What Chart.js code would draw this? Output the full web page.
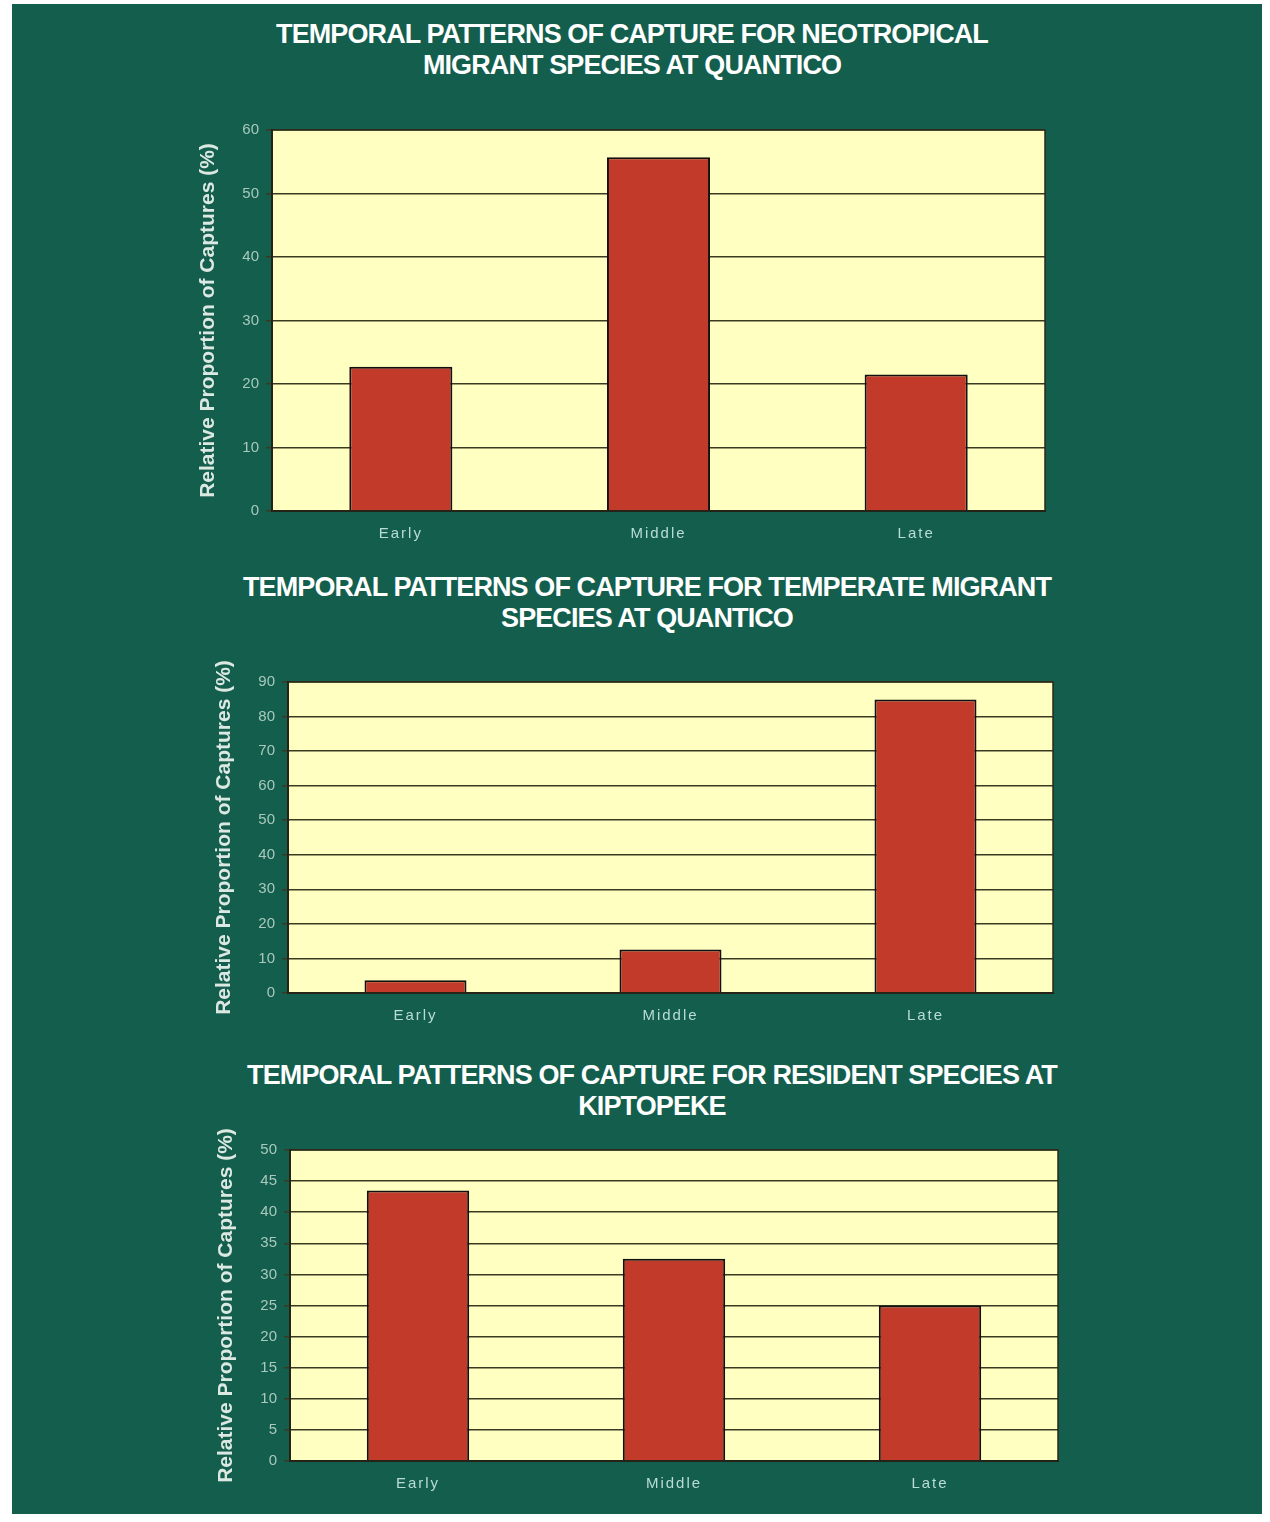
<!DOCTYPE html>
<html lang="en">
<head>
  <meta charset="UTF-8">
  <title>Temporal Patterns of Capture</title>
  <style>
    body {
      margin: 0;
      background: #ffffff;
      width: 1270px;
      height: 1522px;
      position: relative;
      overflow: hidden;
      font-family: "Liberation Sans", Arial, sans-serif;
    }
    .page {
      position: absolute;
      left: 12px;
      top: 4px;
      width: 1250px;
      height: 1510px;
      background: #135e4d;
    }
    .title {
      position: absolute;
      width: 1000px;
      text-align: center;
      color: #ffffff;
      font-weight: bold;
      font-size: 27px;
      line-height: 31px;
      letter-spacing: -0.9px;
    }
    canvas {
      position: absolute;
    }
  </style>
</head>
<body>
  <div class="page"></div>

  <div class="title" style="left:132px; top:19px;">TEMPORAL PATTERNS OF CAPTURE FOR NEOTROPICAL<br>MIGRANT SPECIES AT QUANTICO</div>
  <div class="title" style="left:147px; top:572px;">TEMPORAL PATTERNS OF CAPTURE FOR TEMPERATE MIGRANT<br>SPECIES AT QUANTICO</div>
  <div class="title" style="left:152px; top:1060px;">TEMPORAL PATTERNS OF CAPTURE FOR RESIDENT SPECIES AT<br>KIPTOPEKE</div>

  <canvas id="chart1"></canvas>
  <canvas id="chart2"></canvas>
  <canvas id="chart3"></canvas>

  <script src="https://cdn.jsdelivr.net/npm/chart.js"></script>
  <script>
    // data
    const periods = ['Early', 'Middle', 'Late'];
    const neotropicalQuantico = [22.7, 55.7, 21.5];
    const temperateQuantico = [3.7, 12.6, 84.9];
    const residentKiptopeke = [43.5, 32.5, 25];
    const yAxisLabel = 'Relative Proportion of Captures (%)';

    const Y_WIDTH = 76;   // room for axis title + tick labels
    const X_HEIGHT = 60;  // room for category labels (and overhang of the y title)
    const PAD = 40;       // top room so the long y title is not clipped
    const RIGHT = 10;

    // paints the pale yellow plot area and a dark frame round it
    const plotBackground = {
      id: 'plotBackground',
      beforeDraw(chart) {
        const { ctx, chartArea: a } = chart;
        ctx.save();
        ctx.fillStyle = '#ffffc2';
        ctx.fillRect(a.left, a.top, a.right - a.left, a.bottom - a.top);
        ctx.restore();

        // spaced out category labels like the original
        const s = chart.scales.x;
        if (!s._spaced) {
          const orig = s.drawLabels.bind(s);
          s.drawLabels = (area) => {
            s.ctx.save();
            s.ctx.letterSpacing = '2px';
            orig(area);
            s.ctx.restore();
          };
          s._spaced = true;
        }
      },
      afterDraw(chart) {
        const { ctx, chartArea: a } = chart;
        ctx.save();
        ctx.strokeStyle = '#2a2a1a';
        ctx.lineWidth = 1.5;
        ctx.strokeRect(a.left, a.top, a.right - a.left, a.bottom - a.top);
        ctx.restore();
      }
    };

    function makeChart(id, values, yMax, step, area) {
      const canvas = document.getElementById(id);
      canvas.width = (area.right - area.left) + Y_WIDTH + RIGHT;
      canvas.height = (area.bottom - area.top) + PAD + X_HEIGHT;
      canvas.style.left = (area.left - Y_WIDTH) + 'px';
      canvas.style.top = (area.top - PAD) + 'px';

      return new Chart(canvas.getContext('2d'), {
        type: 'bar',
        data: {
          labels: periods,
          datasets: [{
            data: values,
            backgroundColor: '#c23b2a',
            borderColor: '#111111',
            borderWidth: 2,
            barPercentage: 0.4,
            categoryPercentage: 1.0
          }]
        },
        options: {
          responsive: false,
          animation: false,
          layout: { padding: { top: PAD, right: RIGHT, left: 0, bottom: 0 } },
          plugins: { legend: { display: false }, tooltip: { enabled: false } },
          scales: {
            x: {
              grid: { display: false },
              border: { color: '#111111', width: 2 },
              ticks: {
                color: '#b9dcd6',
                padding: 6,
                font: { family: 'Liberation Sans, Arial, sans-serif', size: 15 }
              },
              afterFit(s) { s.height = X_HEIGHT; }
            },
            y: {
              min: 0,
              max: yMax,
              ticks: {
                stepSize: step,
                color: '#a9c9bc',
                padding: 7,
                font: { family: 'Liberation Sans, Arial, sans-serif', size: 15 }
              },
              grid: { color: '#3a3a22', lineWidth: 1.5, tickLength: 6 },
              border: { color: '#111111', width: 2 },
              title: {
                display: true,
                text: yAxisLabel,
                color: '#dce8e2',
                padding: { top: 0, bottom: 0 },
                font: { family: 'Liberation Sans, Arial, sans-serif', size: 21, weight: 'bold' }
              },
              afterFit(s) { s.width = Y_WIDTH; }
            }
          }
        },
        plugins: [plotBackground]
      });
    }

    makeChart('chart1', neotropicalQuantico, 60, 10, { left: 272, top: 130, right: 1045, bottom: 511 });
    makeChart('chart2', temperateQuantico, 90, 10, { left: 288, top: 682, right: 1053, bottom: 993 });
    makeChart('chart3', residentKiptopeke, 50, 5, { left: 290, top: 1150, right: 1058, bottom: 1461 });
  </script>
</body>
</html>
